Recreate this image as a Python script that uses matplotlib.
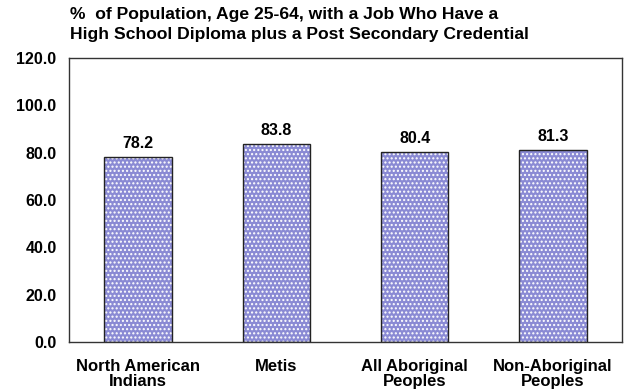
import matplotlib.pyplot as plt
import numpy as np

plt.rcParams['font.family'] = ['Liberation Sans', 'DejaVu Sans']

categories = ["North American\nIndians", "Metis", "All Aboriginal\nPeoples", "Non-Aboriginal\nPeoples"]
values = [78.2, 83.8, 80.4, 81.3]
title = "%  of Population, Age 25-64, with a Job Who Have a\nHigh School Diploma plus a Post Secondary Credential"

fig = plt.figure(figsize=(6.29, 3.89), dpi=100)
ax = fig.add_axes([69 / 629, 1 - 342 / 389, (622 - 69) / 629, (342 - 58) / 389])

x = np.arange(len(categories))
# fill with white dot pattern, then black outline on top
ax.bar(x, values, width=0.49, color="#8a8ad4", edgecolor="white", hatch="....", linewidth=0, zorder=2)
ax.bar(x, values, width=0.49, fill=False, edgecolor="#222222", linewidth=1.0, zorder=3)

for xi, v in zip(x, values):
    ax.text(xi, v + 2.5, f"{v:.1f}", ha="center", va="bottom", fontsize=11.5, fontweight="bold")

ax.set_xlim(-0.5, len(categories) - 0.5)
ax.set_ylim(0, 120)
ax.set_yticks(np.arange(0, 121, 20))
ax.set_yticklabels([f"{t:.1f}" for t in np.arange(0, 121, 20)], fontsize=11.5, fontweight="bold")
ax.set_xticks(x)
ax.set_xticklabels(categories, fontsize=12, fontweight="bold", linespacing=1.05)
ax.tick_params(axis="both", length=0)
ax.tick_params(axis="y", pad=9)
ax.tick_params(axis="x", pad=12)
for s in ax.spines.values():
    s.set_color("#333333")
    s.set_linewidth(1.0)

fig.text(70 / 629, 1 - 7 / 389, title, ha="left", va="top", fontsize=12.6, fontweight="bold", linespacing=1.4)

fig.savefig("out.png", dpi=100)
